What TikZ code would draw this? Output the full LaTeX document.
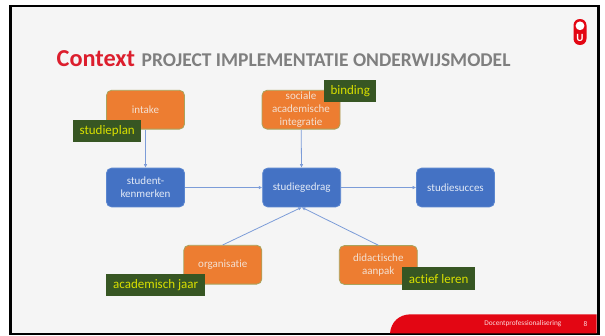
\documentclass[tikz,border=0pt]{standalone}
\usepackage{fontspec}
\setmainfont[Ligatures=NoCommon]{Carlito}
\usetikzlibrary{arrows.meta}
\definecolor{bgc}{HTML}{F5F5F5}
\definecolor{ored}{HTML}{E30613}
\definecolor{ctxred}{HTML}{DC1E2D}
\definecolor{oboxc}{HTML}{ED7D31}
\definecolor{oedge}{HTML}{A9A35C}
\definecolor{bboxc}{HTML}{4472C4}
\definecolor{bedge}{HTML}{5B86CF}
\definecolor{arrc}{HTML}{7C9CD8}
\definecolor{lgreen}{HTML}{375623}
\definecolor{lyellow}{HTML}{D9E000}
\definecolor{txtc}{HTML}{F3E0D2}
\definecolor{gtitle}{HTML}{7F7F7F}
\tikzset{
  flowbox/.style={rounded corners=5pt,minimum width=78pt,minimum height=38.8pt,inner sep=0pt,
    align=center,font=\fontsize{11}{13}\selectfont,line width=0.8pt},
  orangebox/.style={flowbox,fill=oboxc,draw=oedge,text=txtc},
  bluebox/.style={flowbox,fill=bboxc,draw=bedge,text=white!85!bboxc},
  taglabel/.style={fill=lgreen,text=lyellow,inner sep=0pt,anchor=north west,align=center,font=\fontsize{13}{15}\selectfont},
  flowarrow/.style={draw=arrc,line width=0.8pt,-{Latex[length=3.5pt,width=3.5pt]}}
}
\begin{document}
\begin{tikzpicture}[x=1pt,y=-1pt]
\useasboundingbox (0,0) rectangle (605,335);
\fill[white] (0,0) rectangle (605,335);
\fill[black] (9,4.5) rectangle (599.5,335);
\fill[bgc] (12.3,6.8) rectangle (596.7,333.3);
% footer band
\fill[ored] (390,333.3) .. controls (391,322) and (399,314.3) .. (411,314.3) -- (596.7,314.3) -- (596.7,333.3) -- cycle;
\node[anchor=east,text=white!85!ored,font=\fontsize{7.3}{8}\selectfont,inner sep=0pt] (foot) at (561.5,323.8) {Docentprofessionalisering};
\node[text=white!85!ored,font=\fontsize{7.3}{8}\selectfont,inner sep=0pt] (pg) at (585.5,323.8) {8};
% logo
\fill[ored,rounded corners=6.3pt] (573.5,19) rectangle (586.5,45);
\fill[white] (580,25.8) circle (4.4pt);
\node[text=white,font=\bfseries\fontsize{11}{11}\selectfont,inner sep=0pt] (logou) at (580,38) {U};
% title
\node[anchor=base west,inner sep=0pt,text=ctxred,font=\bfseries\fontsize{24.3}{26}\selectfont] (ctx) at (56.5,66.5) {Context};
\node[anchor=base west,inner sep=0pt,text=gtitle,font=\bfseries\fontsize{19.5}{21}\selectfont] (sub) at (141.5,66) {PROJECT IMPLEMENTATIE ONDERWIJSMODEL};
% boxes
\node[orangebox] (intake) at (145.5,109.7) {intake};
\node[orangebox] (soc) at (301,109.7) {sociale\\academische\\integratie};
\node[bluebox] (stud) at (145.5,187.5) {student-\\kenmerken};
\node[bluebox] (gedrag) at (301.7,187.5) {studiegedrag};
\node[bluebox] (succes) at (455.5,187.5) {studiesucces};
\node[orangebox] (org) at (222.8,264.7) {organisatie};
\node[orangebox] (did) at (378.3,265) {didactische\\aanpak};
% connectors
\draw[flowarrow] (intake) -- (stud);
\draw[flowarrow] (soc) -- (gedrag);
\draw[flowarrow] (stud) -- (gedrag);
\draw[flowarrow] (gedrag) -- (succes);
\draw[flowarrow] (org.north) -- (gedrag.south);
\draw[flowarrow] (did.north) -- (gedrag.south);
% tags
\node[taglabel,minimum width=68pt,minimum height=21.7pt] (t1) at (73,120) {studieplan};
\node[taglabel,minimum width=52pt,minimum height=22pt] (t2) at (324,80) {binding};
\node[taglabel,minimum width=99pt,minimum height=22pt] (t3) at (106,274) {academisch jaar};
\node[taglabel,minimum width=73pt,minimum height=22.7pt] (t4) at (402,267) {actief leren};
\end{tikzpicture}
\end{document}
